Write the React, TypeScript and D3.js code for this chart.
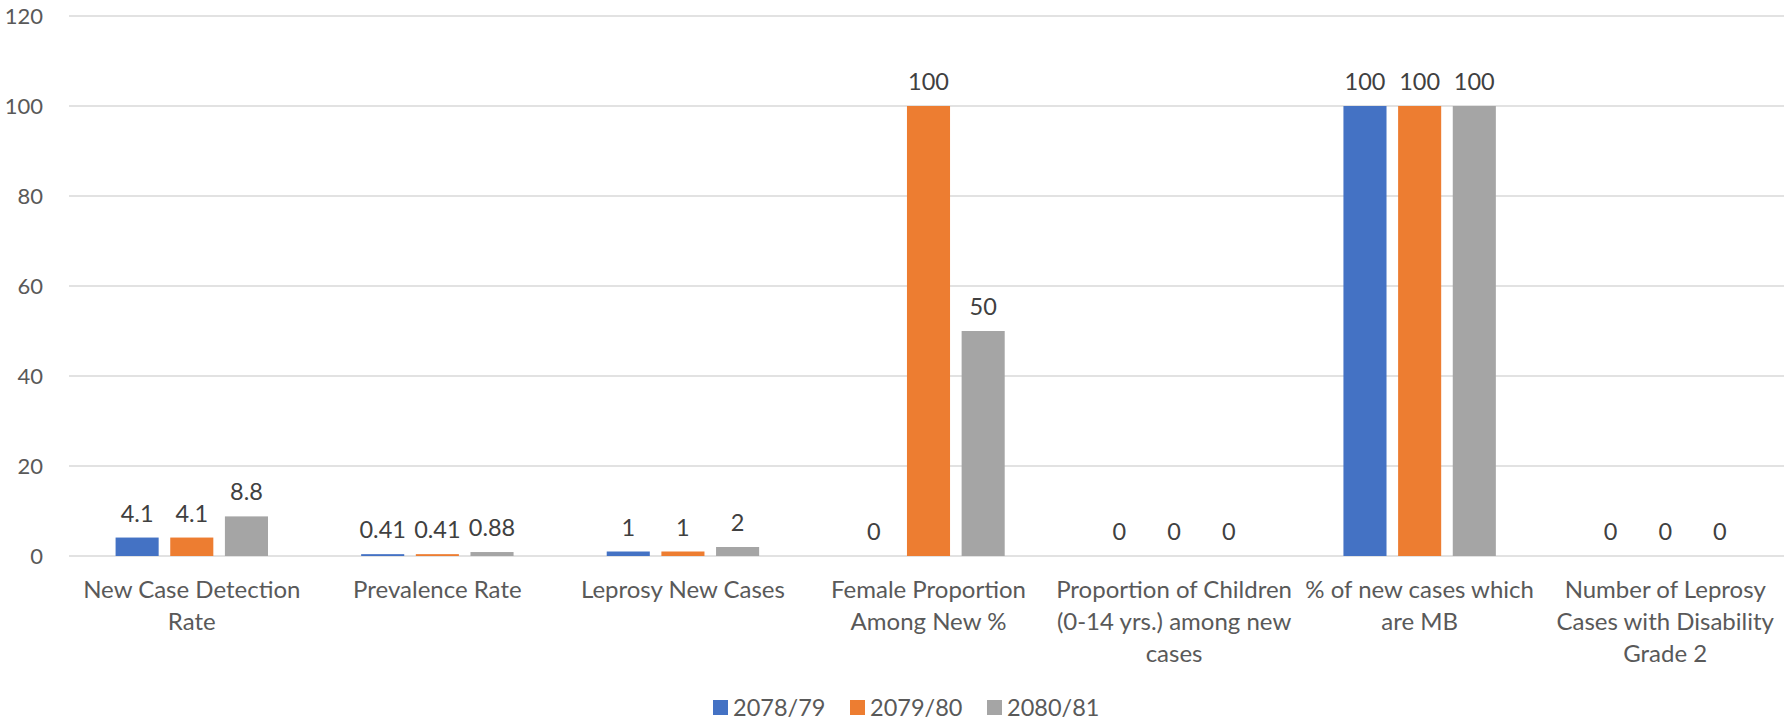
import React from "react";
import * as d3 from "d3";

const categories = [
  "New Case Detection\nRate",
  "Prevalence Rate",
  "Leprosy New Cases",
  "Female Proportion\nAmong New %",
  "Proportion of Children\n(0-14 yrs.) among new\ncases",
  "% of new cases which\nare MB",
  "Number of Leprosy\nCases with Disability\nGrade 2",
];

const seriesNames = ["2078/79", "2079/80", "2080/81"];
const values2078 = [4.1, 0.41, 1, 0, 0, 100, 0];
const values2079 = [4.1, 0.41, 1, 100, 0, 100, 0];
const values2080 = [8.8, 0.88, 2, 50, 0, 100, 0];
const yTicks = [0, 20, 40, 60, 80, 100, 120];

const colors = ["#4472C4", "#ED7D31", "#A5A5A5"];
const textColor = "#595959";
const font = "Lato, 'Open Sans', sans-serif";

const App: React.FC = () => {
  const width = 1784;
  const height = 720;
  const plotLeft = 69;
  const plotRight = 1788;
  const plotTop = 16;
  const plotBottom = 556;

  const series = [values2078, values2079, values2080];

  const x = d3.scaleBand<number>()
    .domain(d3.range(categories.length))
    .range([plotLeft, plotRight]);
  // inner band: 3 bars of ~43px with ~11.6px gaps
  const inner = d3.scaleBand<number>()
    .domain([0, 1, 2])
    .range([0, 164])
    .paddingInner(0.212)
    .paddingOuter(0.106);
  const innerOffset = (x.bandwidth() - 164) / 2;
  const y = d3.scaleLinear().domain([0, 120]).range([plotBottom, plotTop]);

  return (
    <svg width={width} height={height} style={{ position: "absolute", left: 0, top: 0, fontFamily: font }}>
      <rect width={width} height={height} fill="#fff" />
      {yTicks.map(t => (
        <g key={t}>
          <line x1={plotLeft} x2={width} y1={y(t)} y2={y(t)} stroke="#d9d9d9" strokeWidth={1.3} />
          <text x={43} y={y(t)} dy="0.35em" textAnchor="end" fontSize={22} fill={textColor}>{t}</text>
        </g>
      ))}
      {categories.map((c, i) => (
        <g key={c}>
          {series.map((vals, s) => {
            const bx = (x(i) ?? 0) + innerOffset + (inner(s) ?? 0);
            const v = vals[i];
            return (
              <g key={s}>
                <rect x={bx} y={y(v)} width={inner.bandwidth()} height={plotBottom - y(v)} fill={colors[s]} />
                <text x={bx + inner.bandwidth() / 2} y={y(v) - 16} textAnchor="middle" fontSize={23.5} fill="#404040">{v}</text>
              </g>
            );
          })}
          {c.split("\n").map((line, k) => (
            <text key={k} x={(x(i) ?? 0) + x.bandwidth() / 2} y={598 + k * 32} textAnchor="middle" fontSize={24} fill={textColor}>{line}</text>
          ))}
        </g>
      ))}
      {seriesNames.map((n, s) => {
        const lx = [713, 850, 987][s];
        return (
          <g key={n}>
            <rect x={lx} y={700} width={15} height={15} fill={colors[s]} />
            <text x={lx + 20} y={708} dy="0.35em" fontSize={23.5} fill={textColor}>{n}</text>
          </g>
        );
      })}
    </svg>
  );
};

export default App;
